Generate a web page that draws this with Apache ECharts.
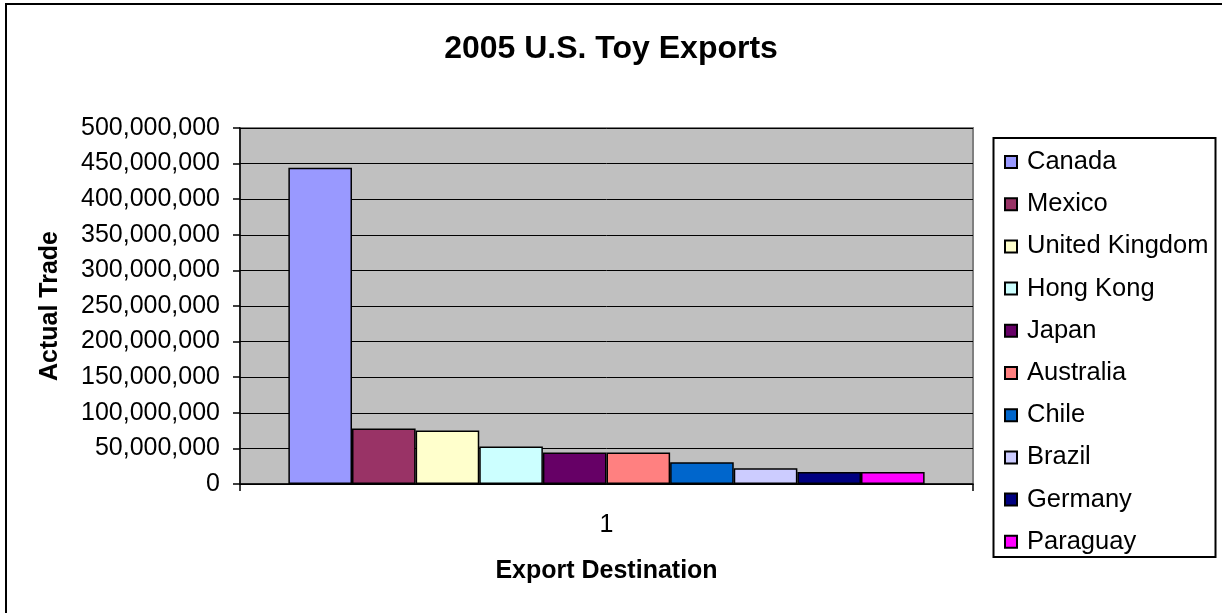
<!DOCTYPE html>
<html>
<head>
<meta charset="utf-8">
<script src="https://cdn.jsdelivr.net/npm/echarts@6/dist/echarts.min.js"></script>
<style>
  html, body { margin: 0; padding: 0; background: #fff; }
  #chart { width: 1222px; height: 613px; }
</style>
</head>
<body>
<div id="chart"></div>
<script>
// 2005 U.S. toy exports by destination (US dollars)
const categories = ['1'];
const countries = ['Canada', 'Mexico', 'United Kingdom', 'Hong Kong', 'Japan',
                   'Australia', 'Chile', 'Brazil', 'Germany', 'Paraguay'];
const exportValues = [444000000, 77800000, 75000000, 52800000, 44400000,
                      44400000, 30600000, 22200000, 16700000, 16700000];
const barColors = ['#9999FF', '#993366', '#FFFFCC', '#CCFFFF', '#660066',
                   '#FF8080', '#0066CC', '#CCCCFF', '#000080', '#FF00FF'];

const FONT = '"Liberation Sans", Arial, sans-serif';

function withCommas(v) {
  return String(v).replace(/\B(?=(\d{3})+(?!\d))/g, ',');
}

const series = countries.map((name, i) => ({
  name: name,
  type: 'bar',
  data: [exportValues[i]],
  barGap: '0%',
  barCategoryGap: '13.2%',
  itemStyle: { color: barColors[i], borderColor: '#000', borderWidth: 1.5 }
}));

const chart = echarts.init(document.getElementById('chart'), null, { renderer: 'canvas' });
chart.setOption({
  animation: false,
  backgroundColor: '#fff',
  title: {
    text: '2005 U.S. Toy Exports',
    left: 'center',
    top: 33,
    padding: 0,
    textStyle: { fontFamily: FONT, fontSize: 32, fontWeight: 'bold', color: '#000' }
  },
  grid: {
    left: 240, right: 249, top: 128, bottom: 129,
    show: true,
    backgroundColor: '#C0C0C0',
    borderColor: '#808080',
    borderWidth: 2
  },
  legend: {
    orient: 'vertical',
    left: 1004,
    top: 149,
    padding: 0,
    itemWidth: 12,
    itemHeight: 12,
    itemGap: 16.2,
    icon: 'rect',
    data: countries,
    textStyle: { fontFamily: FONT, fontSize: 25.5, color: '#000', lineHeight: 24, padding: [0, 0, 0, 5] }
  },
  xAxis: {
    type: 'category',
    data: categories,
    name: 'Export Destination',
    nameLocation: 'middle',
    nameGap: 75,
    nameTextStyle: { fontFamily: FONT, fontSize: 25, fontWeight: 'bold', color: '#000' },
    axisLine: { lineStyle: { color: '#000', width: 1.5 } },
    axisTick: { show: true, length: 7, lineStyle: { color: '#000', width: 1.5 } },
    axisLabel: { margin: 29, fontFamily: FONT, fontSize: 25, color: '#000' },
    splitLine: { show: false }
  },
  yAxis: {
    type: 'value',
    min: 0,
    max: 500000000,
    interval: 50000000,
    name: 'Actual Trade',
    nameLocation: 'middle',
    nameGap: 177,
    nameTextStyle: { fontFamily: FONT, fontSize: 25, fontWeight: 'bold', color: '#000' },
    axisLine: { show: true, lineStyle: { color: '#000', width: 1.5 } },
    axisTick: { show: true, length: 7, lineStyle: { color: '#000', width: 1.5 } },
    axisLabel: {
      margin: 20,
      fontFamily: FONT, fontSize: 25, color: '#000',
      formatter: v => withCommas(v)
    },
    splitLine: { show: true, lineStyle: { color: '#000', width: 1 } }
  },
  graphic: [
    // outer chart frame
    { type: 'rect', shape: { x: 6, y: 4, width: 1240, height: 640 },
      style: { fill: null, stroke: '#000', lineWidth: 2 }, silent: true },
    // legend frame
    { type: 'rect', shape: { x: 993.5, y: 138, width: 222, height: 419 },
      style: { fill: null, stroke: '#000', lineWidth: 2 }, silent: true }
  ],
  series: series
});
</script>
</body>
</html>
